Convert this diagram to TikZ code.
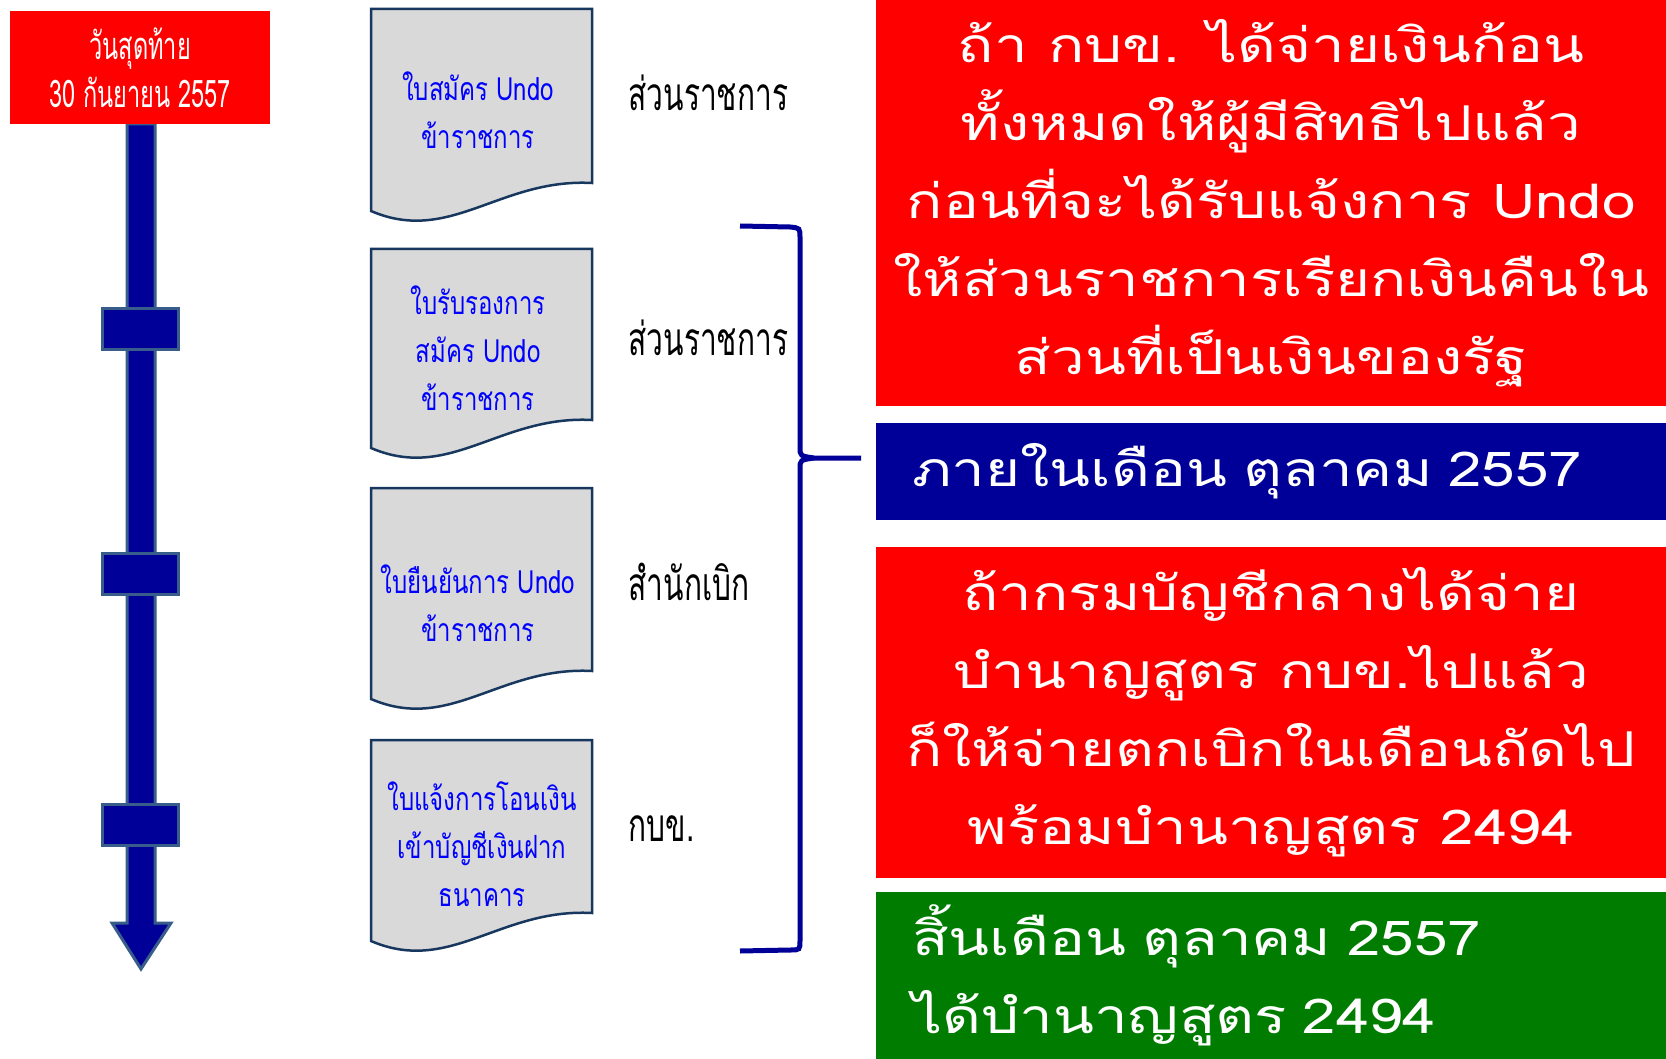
\documentclass[tikz,border=0pt]{standalone}
\usepackage{fontspec}
\setmainfont[Script=Thai]{Loma}
\newfontfamily\wide[Script=Thai,FakeStretch=1.25]{Loma}
\newfontfamily\slim[Script=Thai,FakeStretch=0.75]{Loma}
\newfontfamily\lean[Script=Thai,FakeStretch=0.65]{Loma}
\newfontfamily\tall[Script=Thai,FakeStretch=0.62]{Loma}
\usetikzlibrary{positioning}
\definecolor{navy}{RGB}{0,0,153}
\definecolor{steel}{RGB}{56,93,138}
\definecolor{ink}{RGB}{23,55,94}
\definecolor{paper}{RGB}{217,217,217}
\definecolor{leaf}{RGB}{0,125,0}
\tikzset{
  bar/.style={fill=navy,draw=steel,line width=3pt,line join=miter},
  page/.style={fill=paper,draw=ink,line width=2.5pt},
  doctext/.style={text=blue,font=\slim\fontsize{32}{48}\selectfont},
  who/.style={anchor=west,font=\lean\fontsize{46}{50}\selectfont},
  panel/.style={anchor=north west,text=white,inner sep=0pt,font=\wide\fontsize{48}{78}\selectfont}
}
% document shape: top y, height of the right edge
\newcommand*{\docpage}[2]{\draw[page] (371,#1) -- (592,#1) -- (592,#1+#2)
  .. controls (500,#1+#2-5) and (450,#1+#2+62) .. (371,#1+#2+28) -- cycle;}

\begin{document}
\begin{tikzpicture}[x=1pt,y=-1pt,align=center]
\useasboundingbox (0,0) rectangle (1666,1059);
% Time line
\draw[bar] (127,124) -- (155,124) -- (155,923) -- (171,923) -- (141,969) -- (112,923) -- (127,923) -- cycle;
\foreach \y in {309,553,804}
  \draw[bar] (102,\y) rectangle +(76,41);
\node[fill=red,text=white,minimum width=260,minimum height=113,anchor=north west,
  font=\tall\fontsize{38}{48}\selectfont] (deadline) at (10,11) {วันสุดท้าย\\30 กันยายน 2557};

% Forms
\docpage{9}{174}
\docpage{249}{171}
\docpage{488}{183}
\docpage{740}{173}
\node[doctext] (apply) at (478,110) {ใบสมัคร Undo\\ข้าราชการ};
\node[doctext] (certify) at (478,348) {ใบรับรองการ\\สมัคร Undo\\ข้าราชการ};
\node[doctext] (confirm) at (478,603) {ใบยืนยันการ Undo\\ข้าราชการ};
\node[doctext] (transfer) at (482,844) {ใบแจ้งการโอนเงิน\\เข้าบัญชีเงินฝาก\\ธนาคาร};

% Who fills in each form
\node[who] (dept1) at (625,93) {ส่วนราชการ};
\node[who] (dept2) at (625,338) {ส่วนราชการ};
\node[who] (office) at (625,582) {สำนักเบิก};
\node[who] (gpf) at (625,829) {กบข.};

% Brace
\coordinate (bt) at (740,226);
\coordinate (bm) at (861,458);
\coordinate (bb) at (740,951);
\draw[navy,line width=5pt] (bt) -- (790,227) .. controls (800,228) .. (800,238) -- (800,447)
  .. controls (800,456) .. (814,458) -- (bm);
\draw[navy,line width=5pt] (814,458) .. controls (800,460) .. (800,469) -- (800,940)
  .. controls (800,950) .. (790,950) -- (bb);

% Right panels
\node[panel,fill=red,minimum width=790,minimum height=406] (refund) at (876,0)
  {ถ้า กบข. ได้จ่ายเงินก้อน\\ทั้งหมดให้ผู้มีสิทธิไปแล้ว\\ก่อนที่จะได้รับแจ้งการ Undo\\ให้ส่วนราชการเรียกเงินคืนใน\\ส่วนที่เป็นเงินของรัฐ};
\node[panel,fill=navy,minimum width=790,minimum height=97,text width=718,align=left,inner xsep=36] (within) at (876,423)
  {ภายในเดือน ตุลาคม 2557};
\node[panel,fill=red,minimum width=790,minimum height=331] (arrears) at (876,547)
  {ถ้ากรมบัญชีกลางได้จ่าย\\บำนาญสูตร กบข.ไปแล้ว\\ก็ให้จ่ายตกเบิกในเดือนถัดไป\\พร้อมบำนาญสูตร 2494};
\node[panel,fill=leaf,minimum width=790,minimum height=167,text width=718,align=left,inner xsep=36] (endmonth) at (876,892)
  {สิ้นเดือน ตุลาคม 2557\\ได้บำนาญสูตร 2494};
\end{tikzpicture}
\end{document}
